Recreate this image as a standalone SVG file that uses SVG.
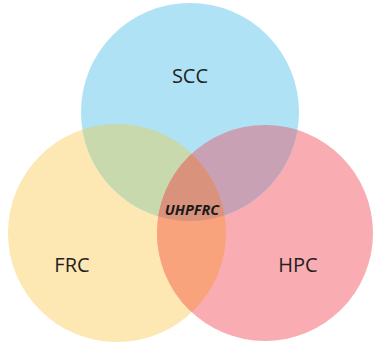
<svg xmlns="http://www.w3.org/2000/svg" width="373" height="343" viewBox="0 0 373 343">
<style>
.lbl{font-family:"Open Sans","Liberation Sans",sans-serif;font-size:20px;fill:#222;text-anchor:middle}
.core{font-family:"Open Sans","Liberation Sans",sans-serif;font-size:14.5px;font-weight:bold;font-style:italic;fill:#1a1a1a;text-anchor:middle}
</style>
<defs>
<clipPath id="cB"><circle cx="190" cy="112" r="109"/></clipPath>
<clipPath id="cY"><circle cx="117" cy="233" r="109"/></clipPath>
</defs>
<rect width="373" height="343" fill="#fff"/>
<g id="frc"><circle cx="117" cy="233" r="109" fill="#fde8b3"/></g>
<g id="hpc"><circle cx="265" cy="233" r="108" fill="#f9adb2"/></g>
<g id="scc"><circle cx="190" cy="112" r="109" fill="#b0e2f5"/></g>
<g id="overlaps">
<circle cx="117" cy="233" r="109" fill="#c8d9ad" clip-path="url(#cB)"/>
<circle cx="265" cy="233" r="108" fill="#c9a1b5" clip-path="url(#cB)"/>
<circle cx="265" cy="233" r="108" fill="#f8a37c" clip-path="url(#cY)"/>
<g clip-path="url(#cB)"><circle cx="265" cy="233" r="108" fill="#d9927c" clip-path="url(#cY)"/></g>
</g>
<g id="labels">
<text class="lbl" x="190" y="83">SCC</text>
<text class="lbl" x="72" y="272">FRC</text>
<text class="lbl" x="298" y="272">HPC</text>
<text class="core" x="192" y="215">UHPFRC</text>
</g>
</svg>
